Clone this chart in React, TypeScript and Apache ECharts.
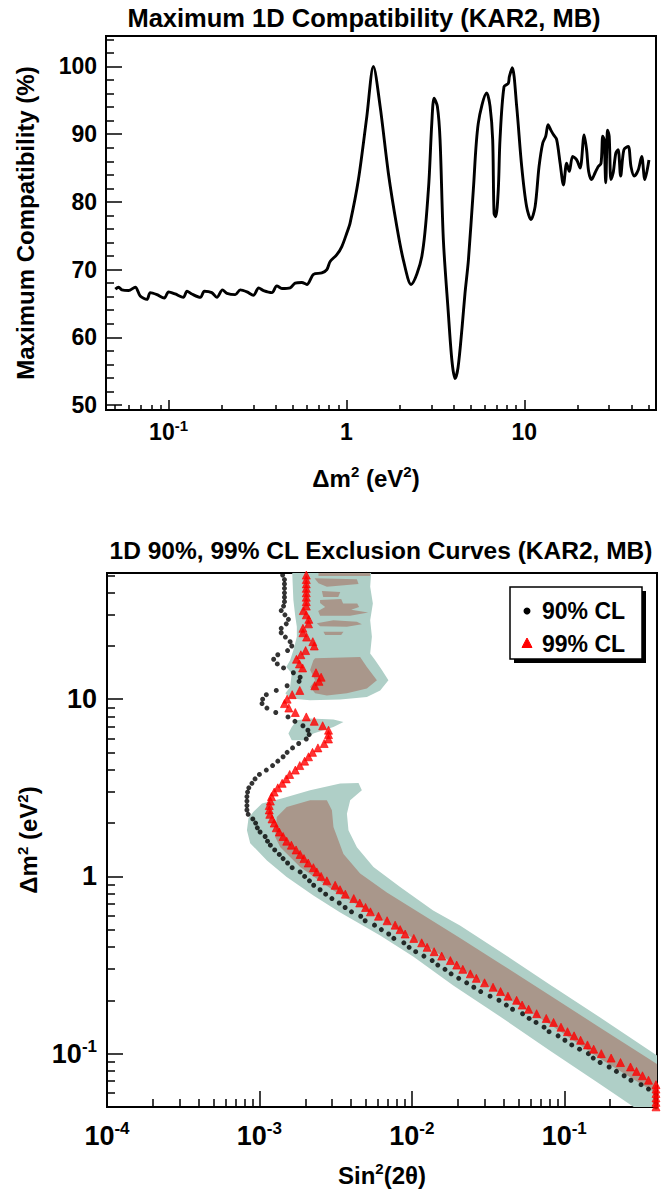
import React, { useEffect, useRef } from 'react';
import * as echarts from 'echarts';

const FONT = '"Liberation Sans", Arial, Helvetica, sans-serif';

// ---------------- Top panel: maximum 1D compatibility ----------------
const COMPAT_DM2 = [
  0.0502, 0.0524, 0.0547, 0.0596, 0.065, 0.0693, 0.0756, 0.0789, 0.0861, 0.0946,
  0.1, 0.109, 0.121, 0.127, 0.135, 0.151, 0.159, 0.175, 0.187, 0.201,
  0.213, 0.237, 0.253, 0.276, 0.3, 0.321, 0.342, 0.381, 0.406, 0.434,
  0.483, 0.515, 0.561, 0.599, 0.653, 0.727, 0.776, 0.81, 0.883, 0.942,
  1.005, 1.049, 1.168, 1.302, 1.418, 1.547, 1.722, 1.919, 2.09, 2.31,
  2.652, 2.89, 3.019, 3.11, 3.245, 3.36, 3.507, 3.73, 3.92, 4.08,
  4.24, 4.47, 4.64, 4.85, 5.17, 5.51, 6.15, 6.42, 6.64, 6.76,
  6.91, 7.14, 7.3, 7.69, 8.13, 8.24, 8.56, 9.06, 9.67, 10.3,
  10.9, 11.5, 12.1, 12.7, 13.2, 13.6, 14.1, 14.6, 15.2, 15.9,
  16.6, 17.3, 17.9, 18.7, 19.7, 20.6, 21.7, 22.4, 23.0, 23.9,
  25.0, 26.0, 27.0, 27.6, 28.1, 28.7, 29.4, 30.0, 30.7, 31.6,
  32.7, 33.7, 34.8, 36.3, 38.4, 39.8, 41.5, 43.7, 45.7, 47.6,
  50.2,
];
const COMPAT_PCT = [
  67.1, 67.4, 67.0, 66.9, 67.4, 66.1, 65.6, 66.6, 66.3, 65.8,
  66.7, 66.4, 65.9, 66.8, 66.4, 65.9, 66.8, 66.6, 65.9, 67.0,
  66.5, 66.3, 67.0, 66.7, 66.2, 67.3, 66.9, 66.6, 67.6, 67.2,
  67.3, 68.0, 68.1, 67.8, 69.3, 69.5, 70.0, 71.2, 72.2, 73.4,
  75.4, 76.9, 83.3, 92.6, 100.0, 94.1, 84.2, 76.4, 71.4, 67.8,
  71.9, 81.8, 91.6, 95.3, 94.1, 89.2, 74.4, 64.0, 56.5, 53.9,
  55.5, 61.5, 66.5, 71.4, 81.8, 91.6, 96.1, 94.1, 89.2, 78.3,
  77.8, 81.8, 89.2, 97.0, 97.5, 98.5, 99.8, 94.1, 85.2, 79.3,
  77.4, 79.3, 85.2, 88.7, 89.7, 91.4, 90.6, 89.9, 89.2, 85.7,
  82.5, 85.7, 84.5, 86.7, 86.2, 85.0, 89.9, 87.7, 84.5, 83.3,
  84.3, 85.2, 85.7, 89.7, 89.2, 82.8, 90.6, 89.7, 83.3, 84.3,
  87.2, 87.7, 83.8, 87.7, 88.2, 85.2, 83.8, 84.7, 86.7, 83.3,
  86.2,
];
const TOP_X_RANGE = [0.0445, 55];
const TOP_Y_RANGE = [49.26, 104.5];
const TOP_X_MAJOR = [0.1, 1, 10];
const TOP_X_MINOR = [0.05, 0.06, 0.07, 0.08, 0.09, 0.2, 0.3, 0.4, 0.5, 0.6, 0.7, 0.8, 0.9, 2, 3, 4, 5, 6, 7, 8, 9, 20, 30, 40, 50];
const TOP_Y_MAJOR = [50, 60, 70, 80, 90, 100];
const TOP_Y_MINOR = [52, 54, 56, 58, 62, 64, 66, 68, 72, 74, 76, 78, 82, 84, 86, 88, 92, 94, 96, 98, 102, 104];

// ---------------- Bottom panel: exclusion curves ----------------
const BOT_X_RANGE = [1e-4, 0.406];
const BOT_Y_RANGE = [0.05, 51.5];
const BOT_X_MAJOR = [1e-4, 1e-3, 1e-2, 1e-1];
const BOT_X_MINOR = [
  2e-4, 3e-4, 4e-4, 5e-4, 6e-4, 7e-4, 8e-4, 9e-4,
  2e-3, 3e-3, 4e-3, 5e-3, 6e-3, 7e-3, 8e-3, 9e-3,
  2e-2, 3e-2, 4e-2, 5e-2, 6e-2, 7e-2, 8e-2, 9e-2,
  0.2, 0.3, 0.4,
];
const BOT_Y_MAJOR = [0.1, 1, 10];
const BOT_Y_MINOR = [0.06, 0.07, 0.08, 0.09, 0.2, 0.3, 0.4, 0.5, 0.6, 0.7, 0.8, 0.9, 2, 3, 4, 5, 6, 7, 8, 9, 20, 30, 40, 50];

const SCAN_DM2 = [
  50.1, 47.3, 44.7, 42.2, 39.8, 37.6, 35.5, 33.5, 31.6, 29.9,
  28.2, 26.6, 25.1, 23.7, 22.4, 21.1, 19.95, 18.8, 17.8, 16.8,
  15.8, 15.0, 14.1, 13.3, 12.6, 11.9, 11.2, 10.6, 10.0, 9.44,
  8.91, 8.41, 7.94, 7.5, 7.08, 6.68, 6.31, 5.96, 5.62, 5.31,
  5.01, 4.73, 4.47, 4.22, 3.98, 3.76, 3.55, 3.35, 3.16, 2.99,
  2.82, 2.66, 2.51, 2.37, 2.24, 2.11, 2.0, 1.88, 1.78, 1.68,
  1.58, 1.5, 1.41, 1.33, 1.26, 1.19, 1.12, 1.06, 1.0, 0.944,
  0.891, 0.841, 0.794, 0.75, 0.708, 0.668, 0.631, 0.596, 0.562, 0.531,
  0.501, 0.473, 0.447, 0.422, 0.398, 0.376, 0.355, 0.335, 0.316, 0.299,
  0.282, 0.266, 0.251, 0.237, 0.224, 0.211, 0.2, 0.188, 0.178, 0.168,
  0.158, 0.15, 0.141, 0.133, 0.126, 0.119, 0.112, 0.106, 0.1, 0.0944,
  0.0891, 0.0841, 0.0794, 0.075, 0.0708, 0.0668, 0.0631, 0.0596, 0.0562, 0.0531,
  0.0501,
];
const CL90_SIN2 = [
  1.42e-3, 1.46e-3, 1.46e-3, 1.46e-3, 1.46e-3, 1.46e-3, 1.46e-3, 1.44e-3, 1.39e-3, 1.47e-3,
  1.55e-3, 1.5e-3, 1.39e-3, 1.39e-3, 1.48e-3, 1.59e-3, 1.63e-3, 1.53e-3, 1.32e-3, 1.24e-3,
  1.31e-3, 1.44e-3, 1.67e-3, 1.85e-3, 1.82e-3, 1.52e-3, 1.29e-3, 1.11e-3, 1.05e-3, 1.04e-3,
  1.12e-3, 1.28e-3, 1.54e-3, 1.71e-3, 1.93e-3, 2.08e-3, 2.12e-3, 2.03e-3, 1.81e-3, 1.65e-3,
  1.52e-3, 1.43e-3, 1.32e-3, 1.22e-3, 1.11e-3, 1.0e-3, 9.36e-4, 8.93e-4, 8.52e-4, 8.36e-4,
  8.28e-4, 8.28e-4, 8.28e-4, 8.28e-4, 8.44e-4, 9.05e-4, 9.44e-4, 9.69e-4, 1.01e-3, 1.09e-3,
  1.13e-3, 1.18e-3, 1.26e-3, 1.35e-3, 1.43e-3, 1.53e-3, 1.64e-3, 1.85e-3, 1.98e-3, 2.13e-3,
  2.27e-3, 2.5e-3, 2.72e-3, 2.99e-3, 3.34e-3, 3.65e-3, 4.02e-3, 4.62e-3, 4.94e-3, 5.69e-3,
  6.31e-3, 7.05e-3, 7.62e-3, 8.86e-3, 9.6e-3, 1.06e-2, 1.2e-2, 1.36e-2, 1.48e-2, 1.65e-2,
  1.81e-2, 2.03e-2, 2.29e-2, 2.55e-2, 2.83e-2, 3.26e-2, 3.73e-2, 4.17e-2, 4.58e-2, 5.33e-2,
  5.88e-2, 6.53e-2, 7.37e-2, 7.95e-2, 9.11e-2, 0.101, 0.112, 0.126, 0.144, 0.155,
  0.172, 0.197, 0.22, 0.247, 0.274, 0.319, 0.357, 0.4, 0.4, 0.4,
  0.4,
];
const CL99_SIN2 = [
  2.03e-3, 2.03e-3, 2.03e-3, 2.03e-3, 2.03e-3, 2.03e-3, 2.03e-3, 2.03e-3, 1.94e-3, 2.03e-3,
  2.11e-3, 2.1e-3, 1.93e-3, 1.93e-3, 2.04e-3, 2.24e-3, 2.29e-3, 2.01e-3, 1.87e-3, 1.75e-3,
  1.83e-3, 1.92e-3, 2.35e-3, 2.54e-3, 2.46e-3, 2.31e-3, 1.84e-3, 1.64e-3, 1.52e-3, 1.46e-3,
  1.56e-3, 1.72e-3, 2.03e-3, 2.29e-3, 2.6e-3, 2.84e-3, 2.84e-3, 2.84e-3, 2.66e-3, 2.42e-3,
  2.23e-3, 2.1e-3, 1.98e-3, 1.84e-3, 1.72e-3, 1.58e-3, 1.5e-3, 1.41e-3, 1.32e-3, 1.25e-3,
  1.2e-3, 1.18e-3, 1.16e-3, 1.16e-3, 1.17e-3, 1.21e-3, 1.25e-3, 1.29e-3, 1.35e-3, 1.43e-3,
  1.51e-3, 1.62e-3, 1.74e-3, 1.85e-3, 1.96e-3, 2.09e-3, 2.26e-3, 2.38e-3, 2.54e-3, 2.77e-3,
  3.14e-3, 3.38e-3, 3.66e-3, 4.16e-3, 4.55e-3, 4.97e-3, 5.35e-3, 6.04e-3, 6.88e-3, 7.77e-3,
  8.38e-3, 9.04e-3, 1.03e-2, 1.16e-2, 1.26e-2, 1.4e-2, 1.57e-2, 1.79e-2, 1.97e-2, 2.16e-2,
  2.42e-2, 2.65e-2, 3.0e-2, 3.41e-2, 3.82e-2, 4.27e-2, 4.87e-2, 5.29e-2, 5.84e-2, 6.59e-2,
  7.62e-2, 8.51e-2, 9.52e-2, 0.105, 0.116, 0.128, 0.142, 0.156, 0.175, 0.203,
  0.234, 0.272, 0.298, 0.326, 0.357, 0.4, 0.4, 0.4, 0.4, 0.4,
  0.4,
];

// Allowed regions (sin^2 2theta, dm^2) outlines
const OUTER_UPPER = [
  [1.63e-3, 60], [1.67e-3, 36.3], [1.72e-3, 29.2], [1.76e-3, 25.6], [1.76e-3, 22.5], [1.67e-3, 18.9],
  [1.59e-3, 16.6], [1.5e-3, 15.2], [1.63e-3, 14.0], [1.59e-3, 11.7], [1.48e-3, 10.8], [1.59e-3, 10.1],
  [2.15e-3, 9.87], [3.39e-3, 9.96], [5.07e-3, 10.3], [6.2e-3, 11.2], [7.02e-3, 12.8], [6.36e-3, 14.6],
  [5.75e-3, 16.6], [5.33e-3, 18.1], [5.47e-3, 22.5], [5.33e-3, 27.9], [5.55e-3, 34.7], [5.33e-3, 43.1],
  [5.47e-3, 60],
];
const OUTER_ISLAND = [
  [1.76e-3, 7.61], [2.15e-3, 7.78], [3.06e-3, 7.68], [3.56e-3, 7.44], [3.06e-3, 6.97], [2.26e-3, 6.4],
  [1.95e-3, 5.87], [1.63e-3, 5.87], [1.55e-3, 6.4], [1.63e-3, 6.97],
];
const OUTER_MAIN = [
  [9.11e-4, 2.31], [1.04e-3, 2.58], [1.4e-3, 2.75], [2.15e-3, 3.06], [3.39e-3, 3.34], [4.47e-3, 3.37],
  [4.7e-3, 3.06], [3.94e-3, 2.69], [3.75e-3, 2.26], [3.84e-3, 1.82], [4.36e-3, 1.46], [5.6e-3, 1.13],
  [8.38e-3, 0.87], [1.38e-2, 0.643], [2.07e-2, 0.529], [3.79e-2, 0.377], [8.07e-2, 0.245], [0.172, 0.16],
  [0.45, 0.092], [0.45, 0.04], [0.38, 0.04], [0.299, 0.0487], [0.172, 0.0673], [8.07e-2, 0.104],
  [3.79e-2, 0.162], [1.87e-2, 0.242], [1.02e-2, 0.353], [6.2e-3, 0.464], [3.39e-3, 0.626], [2.26e-3, 0.781],
  [1.51e-3, 0.991], [1.12e-3, 1.23], [8.7e-4, 1.54], [8.28e-4, 1.82], [8.48e-4, 2.13],
];
const INNER_MAIN = [
  [1.3e-3, 2.16], [1.51e-3, 2.46], [2.15e-3, 2.69], [2.77e-3, 2.69], [2.99e-3, 2.36], [3.06e-3, 1.9],
  [3.56e-3, 1.34], [4.58e-3, 1.04], [6.86e-3, 0.812], [2.07e-2, 0.449], [3.79e-2, 0.323], [8.07e-2, 0.213],
  [0.172, 0.14], [0.45, 0.0826], [0.45, 0.0562], [0.172, 0.0937], [8.07e-2, 0.146], [3.79e-2, 0.218],
  [2.07e-2, 0.306], [1.39e-2, 0.382], [8.38e-3, 0.495], [5.07e-3, 0.643], [3.06e-3, 0.834], [1.85e-3, 1.13],
  [1.37e-3, 1.46], [1.27e-3, 1.67],
];
const INNER_TOP_STRIP = [[2.44e-3, 60], [5.33e-3, 60], [5.33e-3, 49.5], [2.44e-3, 49.5]];
const INNER_ISLAND_A = [[2.3e-3, 48.1], [4.36e-3, 47.5], [4.47e-3, 44.6], [2.77e-3, 43.1], [2.44e-3, 45.1]];
const INNER_ISLAND_B = [[2.57e-3, 40.8], [3.39e-3, 40.2], [3.29e-3, 37.7], [2.62e-3, 37.7]];
const INNER_ISLAND_C = [
  [2.5e-3, 36.3], [3.44e-3, 36.7], [3.54e-3, 34.6], [4.38e-3, 34.6], [4.51e-3, 33.1], [4.0e-3, 32.0],
  [5.17e-3, 30.8], [3.94e-3, 29.6], [2.5e-3, 29.6], [2.43e-3, 31.4], [2.7e-3, 33.1], [2.5e-3, 34.9],
];
const INNER_ISLAND_D = [[2.38e-3, 26.8], [3.06e-3, 27.9], [4.36e-3, 27.3], [4.7e-3, 26.5], [3.75e-3, 25.6], [2.5e-3, 25.8]];
const INNER_ISLAND_E = [[2.63e-3, 24.0], [3.56e-3, 24.0], [3.44e-3, 23.0], [2.7e-3, 23.0]];
const INNER_ISLAND_F = [
  [2.32e-3, 17.0], [4.58e-3, 17.3], [5.07e-3, 15.2], [5.9e-3, 12.8], [5.07e-3, 11.5], [3.75e-3, 10.8],
  [2.77e-3, 10.5], [2.32e-3, 10.8], [2.15e-3, 11.7], [2.32e-3, 12.8], [2.15e-3, 14.6], [2.26e-3, 16.6],
];

const TEAL = '#afcfc7';
const BROWN = '#a9978b';
const RED = '#ff0000';

const lg = Math.log10;

function decadeLabel(v: number) {
  const e = Math.round(v);
  if (e === 0) return '1';
  if (e === 1) return '10';
  return '10{s|' + e + '}';
}

function buildOption() {
  const regions = [
    { pts: OUTER_UPPER, color: TEAL },
    { pts: OUTER_ISLAND, color: TEAL },
    { pts: OUTER_MAIN, color: TEAL },
    { pts: INNER_MAIN, color: BROWN },
    { pts: INNER_TOP_STRIP, color: BROWN },
    { pts: INNER_ISLAND_A, color: BROWN },
    { pts: INNER_ISLAND_B, color: BROWN },
    { pts: INNER_ISLAND_C, color: BROWN },
    { pts: INNER_ISLAND_D, color: BROWN },
    { pts: INNER_ISLAND_E, color: BROWN },
    { pts: INNER_ISLAND_F, color: BROWN },
  ];

  const axisLine = { show: true, onZero: false, lineStyle: { color: '#000', width: 2 } };
  const supRich = (size: number) => ({
    s: { fontSize: size, fontWeight: 'bold', fontFamily: FONT, color: '#000', verticalAlign: 'top', lineHeight: 8 },
  });
  const nameRich = {
    b: { fontSize: 24, fontWeight: 'bold', fontFamily: FONT, color: '#000', lineHeight: 28 },
    s: { fontSize: 15, fontWeight: 'bold', fontFamily: FONT, color: '#000', verticalAlign: 'top', lineHeight: 10 },
  };
  const dm2Name = '{b|\u0394m}{s|2}{b| (eV}{s|2}{b|)}';

  const majorAxis = (
    gridIndex: number,
    range: number[],
    major: number[],
    pos: string,
    tickLen: number,
    fontSize: number,
    supSize: number,
    margin: number,
    formatter: any,
    name: string,
    nameGap: number,
    extra: any,
    isLog: boolean
  ) => ({
    gridIndex,
    type: 'value',
    position: pos,
    min: isLog ? lg(range[0]) : range[0],
    max: isLog ? lg(range[1]) : range[1],
    axisLine,
    axisTick: {
      show: true,
      inside: true,
      length: tickLen,
      customValues: isLog ? major.map(lg) : major,
      lineStyle: { color: '#000', width: 1.5 },
    },
    axisLabel: {
      show: true,
      customValues: isLog ? major.map(lg) : major,
      formatter,
      margin,
      color: '#000',
      fontSize,
      fontWeight: 'bold',
      fontFamily: FONT,
      lineHeight: fontSize + 5,
      rich: supRich(supSize),
    },
    splitLine: { show: false },
    name,
    nameLocation: 'middle',
    nameGap,
    nameTextStyle: { rich: nameRich, ...extra.nameTextStyle },
    nameRotate: extra.nameRotate,
  });

  const minorAxis = (gridIndex: number, range: number[], minor: number[], pos: string, tickLen: number, isLog: boolean) => ({
    gridIndex,
    type: 'value',
    position: pos,
    min: isLog ? lg(range[0]) : range[0],
    max: isLog ? lg(range[1]) : range[1],
    axisLine: { show: false, onZero: false },
    axisTick: {
      show: true,
      inside: true,
      length: tickLen,
      customValues: isLog ? minor.map(lg) : minor,
      lineStyle: { color: '#000', width: 1.5 },
    },
    axisLabel: { show: false },
    splitLine: { show: false },
  });

  const titleStyle = (size: number) => ({ fontSize: size, fontWeight: 'bold', fontFamily: FONT, color: '#000', lineHeight: 30 });

  return {
    animation: false,
    backgroundColor: '#fff',
    title: [
      {
        text: 'Maximum 1D Compatibility (KAR2, MB)',
        left: 364,
        top: 3,
        padding: 0,
        textAlign: 'center',
        textStyle: titleStyle(25.5),
      },
      {
        text: '1D 90%, 99% CL Exclusion Curves (KAR2, MB)',
        left: 381,
        top: 535,
        padding: 0,
        textAlign: 'center',
        textStyle: titleStyle(24.5),
      },
    ],
    grid: [
      { left: 106, top: 36, width: 550, height: 374, show: true, borderColor: '#000', borderWidth: 2, backgroundColor: 'transparent' },
      { left: 107, top: 573, width: 550, height: 534, show: true, borderColor: '#000', borderWidth: 2, backgroundColor: 'transparent' },
    ],
    xAxis: [
      majorAxis(0, TOP_X_RANGE, TOP_X_MAJOR, 'bottom', 10, 23, 15, 8, decadeLabel, dm2Name, 54,
        { nameTextStyle: { padding: [0, 30, 0, 0] } }, true),
      minorAxis(0, TOP_X_RANGE, TOP_X_MINOR, 'bottom', 5, true),
      majorAxis(1, BOT_X_RANGE, BOT_X_MAJOR, 'bottom', 16, 27, 17, 13, decadeLabel, '{b|Sin}{s|2}{b|(2\u03b8)}', 54,
        { nameTextStyle: {} }, true),
      minorAxis(1, BOT_X_RANGE, BOT_X_MINOR, 'bottom', 8, true),
    ],
    yAxis: [
      majorAxis(0, TOP_Y_RANGE, TOP_Y_MAJOR, 'left', 16, 23, 15, 9, (v: number) => String(Math.round(v)),
        'Maximum Compatibility (%)', 67,
        { nameRotate: 90, nameTextStyle: { fontSize: 24, fontWeight: 'bold', fontFamily: FONT, color: '#000', lineHeight: 28 } }, false),
      minorAxis(0, TOP_Y_RANGE, TOP_Y_MINOR, 'left', 8, false),
      majorAxis(1, BOT_Y_RANGE, BOT_Y_MAJOR, 'left', 16, 27, 17, 10, decadeLabel, dm2Name, 64,
        { nameRotate: 90, nameTextStyle: {} }, true),
      minorAxis(1, BOT_Y_RANGE, BOT_Y_MINOR, 'left', 8, true),
    ],
    series: [
      {
        name: 'Maximum compatibility',
        type: 'line',
        xAxisIndex: 0,
        yAxisIndex: 0,
        data: COMPAT_DM2.map((m, i) => [lg(m), COMPAT_PCT[i]]),
        showSymbol: false,
        symbol: 'none',
        smooth: 0.3,
        lineStyle: { color: '#000', width: 2.9 },
        z: 3,
      },
      {
        name: 'Allowed regions',
        type: 'custom',
        xAxisIndex: 2,
        yAxisIndex: 2,
        clip: true,
        data: regions.map((r) => [lg(r.pts[0][0]), lg(r.pts[0][1])]),
        renderItem: (params: any, api: any) => {
          const r = regions[params.dataIndex];
          const pts = r.pts.map((p) => api.coord([lg(p[0]), lg(p[1])]));
          return { type: 'polygon', shape: { points: pts }, style: { fill: r.color }, silent: true };
        },
        z: 2,
      },
      {
        name: '90% CL',
        type: 'scatter',
        xAxisIndex: 2,
        yAxisIndex: 2,
        data: SCAN_DM2.map((m, i) => [lg(CL90_SIN2[i]), lg(m)]),
        symbol: 'circle',
        symbolSize: 5,
        itemStyle: { color: '#000' },
        z: 4,
      },
      {
        name: '99% CL',
        type: 'scatter',
        xAxisIndex: 2,
        yAxisIndex: 2,
        data: SCAN_DM2.map((m, i) => [lg(CL99_SIN2[i]), lg(m)]),
        symbol: 'triangle',
        symbolSize: 8,
        itemStyle: { color: RED, borderColor: RED, borderWidth: 0.8 },
        z: 5,
      },
    ],
    graphic: [
      {
        type: 'group',
        z: 100,
        children: [
          { type: 'rect', shape: { x: 514, y: 591, width: 132, height: 72 }, style: { fill: '#000' } },
          { type: 'rect', shape: { x: 510, y: 587, width: 132, height: 72 }, style: { fill: '#fff', stroke: '#000', lineWidth: 1.5 } },
          { type: 'circle', shape: { cx: 527, cy: 611, r: 3.5 }, style: { fill: '#000' } },
          {
            type: 'polygon',
            shape: { points: [[522, 647.5], [532, 647.5], [527, 638]] },
            style: { fill: RED, stroke: RED, lineWidth: 1 },
          },
          {
            type: 'text',
            x: 542,
            y: 611,
            style: { text: '90% CL', font: 'bold 23px ' + FONT, fill: '#000', verticalAlign: 'middle', textVerticalAlign: 'middle' },
          },
          {
            type: 'text',
            x: 542,
            y: 644,
            style: { text: '99% CL', font: 'bold 23px ' + FONT, fill: '#000', verticalAlign: 'middle', textVerticalAlign: 'middle' },
          },
        ],
      },
    ],
  };
}

export default function App() {
  const ref = useRef<HTMLDivElement>(null);
  useEffect(() => {
    if (!ref.current) return;
    const chart = echarts.init(ref.current, null, { renderer: 'svg' });
    chart.setOption(buildOption() as any);
    return () => chart.dispose();
  }, []);
  return (
    <div
      ref={ref}
      style={{ position: 'absolute', left: 0, top: 0, width: 670, height: 1193, background: '#fff' }}
    />
  );
}
